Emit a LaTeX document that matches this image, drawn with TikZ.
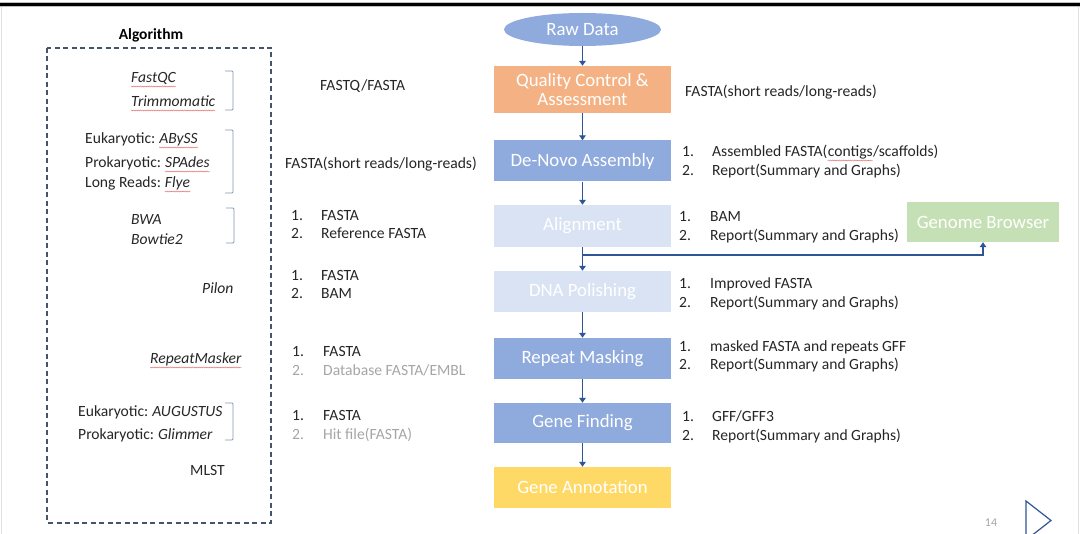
\documentclass[tikz,border=0pt]{standalone}
\usepackage{fontspec}
\setmainfont{Carlito}
\usetikzlibrary{arrows.meta,decorations.pathmorphing,shapes.geometric}
\definecolor{txt}{HTML}{262626}
\definecolor{gry}{HTML}{A6A6A6}
\definecolor{arr}{HTML}{2F5597}
\definecolor{qcc}{HTML}{F4B183}
\definecolor{blc}{HTML}{8FAADC}
\definecolor{lbc}{HTML}{DAE3F3}
\definecolor{ylc}{HTML}{FFD966}
\definecolor{grc}{HTML}{C5E0B4}
\definecolor{dashc}{HTML}{44546A}
\definecolor{brk}{HTML}{8497B0}
\definecolor{sqc}{HTML}{E06666}
\begin{document}
\begin{tikzpicture}[x=1pt,y=-1pt,
 lbl/.style={anchor=base west,inner sep=0pt,text=txt,font=\fontsize{15.6}{18}\selectfont},
 glbl/.style={lbl,text=gry},
 itl/.style={lbl,font=\fontsize{15.6}{18}\selectfont\itshape},
 flow/.style={minimum width=177pt,minimum height=41pt,inner sep=0pt,text=white,font=\fontsize{18.8}{18.5}\selectfont,align=center},
 arrowln/.style={draw=arr,line width=1.6pt,-{Triangle[length=5pt,width=6.5pt]}},
 squig/.style={draw=sqc,line width=0.4pt,decorate,decoration={snake,amplitude=0.5pt,segment length=2.2pt}},
 bracket/.style={draw=brk,line width=0.9pt,rounded corners=1pt}]
\useasboundingbox (0,0) rectangle (1080,534);
\fill[white] (0,0) rectangle (1080,534);
\fill[gray!50] (0,2) rectangle (1080,7);
\fill[black] (0,3) rectangle (1080,6);
\draw[gray!25,line width=0.8pt] (1078.5,7) -- (1078.5,534);
\draw[gray!25,line width=0.8pt] (1.5,7) -- (1.5,534);

% dashed algorithm frame
\draw[dashc,line width=1.3pt,dash pattern=on 5pt off 3.5pt] (47,48) rectangle (271,523);
\node[inner sep=0pt,text=black,font=\fontsize{15.5}{18}\selectfont\bfseries] (algo) at (151,35) {Algorithm};

% left column
\node[itl] (fastqc) at (131,83) {FastQC};
\node[itl] (trim) at (131,107) {Trimmomatic};
\node[lbl] (euk1) at (85,144) {Eukaryotic:};
\node[itl] (abyss) at ([xshift=3.6pt]euk1.base east) {ABySS};
\node[lbl] (pro1) at (85,168) {Prokaryotic:};
\node[itl] (spades) at ([xshift=3.6pt]pro1.base east) {SPAdes};
\node[lbl] (long) at (85,188) {Long Reads:};
\node[itl] (flye) at ([xshift=3.6pt]long.base east) {Flye};
\node[itl] (bwa) at (131,225) {BWA};
\node[itl] (bowtie) at (131,245) {Bowtie2};
\node[itl] (pilon) at (202,294) {Pilon};
\node[itl] (rmask) at (150,364) {RepeatMasker};
\node[lbl] (euk2) at (78,417) {Eukaryotic:};
\node[itl] (aug) at ([xshift=3.6pt]euk2.base east) {AUGUSTUS};
\node[lbl] (pro2) at (78,440) {Prokaryotic:};
\node[itl] (glim) at ([xshift=3.6pt]pro2.base east) {Glimmer};
\node[lbl] (mlst) at (190,476) {MLST};

\foreach \w in {fastqc,trim,abyss,spades,flye,rmask}
  \draw[squig] ([yshift=-3.5pt]\w.base west) -- ([yshift=-3.5pt]\w.base east);

\draw[bracket] (225,71) -- (233,71) -- (233,110) -- (225,110);
\draw[bracket] (225,130) -- (233,130) -- (233,193) -- (225,193);
\draw[bracket] (226,208) -- (234,208) -- (234,243) -- (226,243);
\draw[bracket] (225,403) -- (233,403) -- (233,440) -- (225,440);

% input column
\node[lbl] (in1) at (320,91) {FASTQ/FASTA};
\node[lbl] (in2) at (285,169) {FASTA(short reads/long-reads)};
\node[lbl] (in3a) at (291,221) {1.};
\node[lbl] (in3b) at (321,221) {FASTA};
\node[lbl] (in3c) at (291,239) {2.};
\node[lbl] (in3d) at (321,239) {Reference FASTA};
\node[lbl] (in4a) at (291,281) {1.};
\node[lbl] (in4b) at (321,281) {FASTA};
\node[lbl] (in4c) at (291,299) {2.};
\node[lbl] (in4d) at (321,299) {BAM};
\node[lbl] (in5a) at (292,357) {1.};
\node[lbl] (in5b) at (323,357) {FASTA};
\node[glbl] (in5c) at (292,376) {2.};
\node[glbl] (in5d) at (323,376) {Database FASTA/EMBL};
\node[lbl] (in6a) at (292,421) {1.};
\node[lbl] (in6b) at (323,421) {FASTA};
\node[glbl] (in6c) at (292,440) {2.};
\node[glbl] (in6d) at (323,440) {Hit file(FASTA)};

% flow
\node[ellipse,fill=blc,minimum width=157pt,minimum height=33pt,inner sep=0pt,text=white,font=\fontsize{18.8}{18.5}\selectfont] (raw) at (582.5,29.5) {Raw Data};
\node[flow,fill=qcc,minimum height=47pt] (qc) at (582.5,89.5) {Quality Control \&\\Assessment};
\node[flow,fill=blc] (dn) at (582.5,161) {De-Novo Assembly};
\node[flow,fill=lbc,minimum height=42pt] (al) at (582.5,226) {Alignment};
\node[flow,fill=lbc] (dp) at (582.5,291.5) {DNA Polishing};
\node[flow,fill=blc] (rm) at (582.5,358.5) {Repeat Masking};
\node[flow,fill=blc,minimum height=40pt] (gf) at (582.5,423) {Gene Finding};
\node[flow,fill=ylc] (ga) at (582.5,487.5) {Gene Annotation};
\node[flow,fill=grc,minimum width=152pt,minimum height=40pt] (gb) at (983,222) {Genome Browser};

\draw[arrowln] (raw.south) -- (qc.north);
\draw[arrowln] (qc.south) -- (dn.north);
\draw[arrowln] (dn.south) -- (al.north);
\draw[arrowln] (al.south) -- (dp.north);
\coordinate (br) at (582.5,255);
\draw[arrowln] (br) -| (gb.south);
\draw[arrowln] (dp.south) -- (rm.north);
\draw[arrowln] (rm.south) -- (gf.north);
\draw[arrowln] (gf.south) -- (ga.north);

% output column
\node[lbl] (o1) at (685,97) {FASTA(short reads/long-reads)};
\node[lbl] (o2a) at (682,157) {1.};
\node[lbl] (o2b) at (712,157) {Assembled FASTA(};
\node[lbl] (contigs) at (o2b.base east) {contigs};
\node[lbl] (o2c) at (contigs.base east) {/scaffolds)};
\draw[squig] ([yshift=-3.5pt]contigs.base west) -- ([yshift=-3.5pt]contigs.base east);
\node[lbl] (o2d) at (682,176) {2.};
\node[lbl] (o2e) at (712,176) {Report(Summary and Graphs)};
\node[lbl] (o3a) at (679,222) {1.};
\node[lbl] (o3b) at (710,222) {BAM};
\node[lbl] (o3c) at (679,241) {2.};
\node[lbl] (o3d) at (710,241) {Report(Summary and Graphs)};
\node[lbl] (o4a) at (679,289) {1.};
\node[lbl] (o4b) at (710,289) {Improved FASTA};
\node[lbl] (o4c) at (679,308) {2.};
\node[lbl] (o4d) at (710,308) {Report(Summary and Graphs)};
\node[lbl] (o5a) at (679,352) {1.};
\node[lbl] (o5b) at (710,352) {masked FASTA and repeats GFF};
\node[lbl] (o5c) at (679,370) {2.};
\node[lbl] (o5d) at (710,370) {Report(Summary and Graphs)};
\node[lbl] (o6a) at (682,422) {1.};
\node[lbl] (o6b) at (712,422) {GFF/GFF3};
\node[lbl] (o6c) at (682,441) {2.};
\node[lbl] (o6d) at (712,441) {Report(Summary and Graphs)};

% page number and nav triangle
\node[inner sep=0pt,text=gry,font=\fontsize{12}{14}\selectfont] (pg) at (991,523) {14};
\begin{scope}
\clip (0,0) rectangle (1080,534);
\draw[arr,line width=1.2pt,line join=miter] (1026,540) -- (1026,501) -- (1051,520.5) -- cycle;
\end{scope}
\end{tikzpicture}
\end{document}
